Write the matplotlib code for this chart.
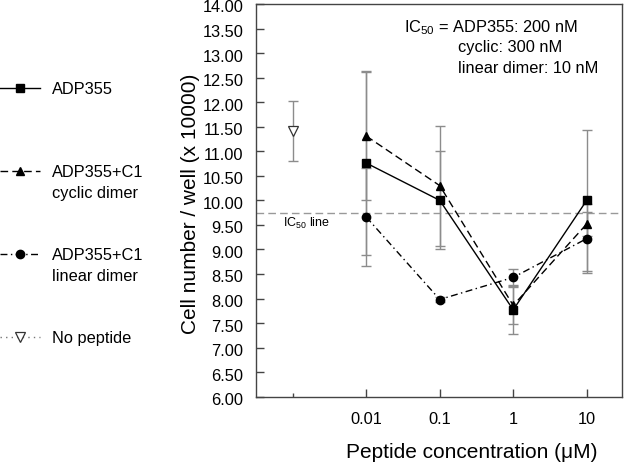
import matplotlib
matplotlib.use('Agg')
import matplotlib.pyplot as plt
import matplotlib.transforms as mtransforms
from matplotlib.lines import Line2D

plt.rcParams['font.family'] = ['Liberation Sans', 'DejaVu Sans']
plt.rcParams['mathtext.fontset'] = 'custom'
plt.rcParams['mathtext.rm'] = 'Liberation Sans'
plt.rcParams['mathtext.it'] = 'Liberation Sans'
plt.rcParams['lines.scale_dashes'] = False

# Dados
conc = [0.01, 0.1, 1, 10]
adp355 = [10.76, 10.00, 7.77, 10.00]
adp355_err = [1.87, 1.00, 0.50, 1.43]
ciclico = [11.31, 10.30, 7.86, 9.52]
ciclico_err = [1.31, 1.22, 0.38, 0.25]
linear = [9.66, 7.98, 8.43, 9.22]
linear_err = [1.00, 0.05, 0.18, 0.70]
sem_peptideo_x = [0.001]
sem_peptideo = [11.42]
sem_peptideo_err = [0.61]
ic50 = 9.75

yticks = [6 + 0.5 * i for i in range(17)]
xticks = [0.01, 0.1, 1, 10]
xticklabels = ['0.01', '0.1', '1', '10']

fig = plt.figure(figsize=(6.24, 4.65), dpi=100)
ax = fig.add_axes([256 / 624, 1 - 396.7 / 465, 366 / 624, 392.7 / 465])

cinza = '#8c8c8c'
estilos = {
    'ADP355': dict(marker='s', ls='-', ms=5.5),
    'cyc': dict(marker='^', ls=(0, (5.5, 3)), ms=6),
    'lin': dict(marker='o', ls=(0, (5, 2.5, 1, 2.5)), ms=6),
}

for y, err, est in [(adp355, adp355_err, estilos['ADP355']),
                    (ciclico, ciclico_err, estilos['cyc']),
                    (linear, linear_err, estilos['lin'])]:
    ax.errorbar(conc, y, yerr=err, fmt='none', ecolor=cinza, elinewidth=1,
                capsize=3.5, capthick=1, zorder=2)
    ax.plot(conc, y, color='black', lw=1, marker=est['marker'], ls=est['ls'],
            ms=est['ms'], zorder=3)

ax.errorbar(sem_peptideo_x, sem_peptideo, yerr=sem_peptideo_err, fmt='none',
            ecolor=cinza, elinewidth=1, capsize=3.5, capthick=1, zorder=2)
ax.plot(sem_peptideo_x, sem_peptideo, ls='none', marker='v', ms=6.5,
        mfc='white', mec='#333333', mew=0.9, zorder=3)

ax.axhline(ic50, color='#999999', lw=1, ls=(0, (5.5, 3)), zorder=1)
ax.text(0.075, 0.44, 'IC$_{50}$ line', transform=ax.transAxes, fontsize=9,
        va='center', ha='left')

ax.text(0.405, 0.941, 'IC$_{50}$ = ADP355: 200 nM', transform=ax.transAxes,
        fontsize=11.8, va='center', ha='left')
ax.text(0.552, 0.888, 'cyclic: 300 nM', transform=ax.transAxes,
        fontsize=11.8, va='center', ha='left')
ax.text(0.552, 0.835, 'linear dimer: 10 nM', transform=ax.transAxes,
        fontsize=11.8, va='center', ha='left')

ax.set_xscale('log')
ax.set_xlim(10 ** -3.5, 10 ** 1.48)
ax.set_ylim(6, 14)
ax.set_xticks(xticks)
ax.set_xticklabels(xticklabels)
ax.set_xticks([0.001], minor=True)
ax.set_xticklabels([''], minor=True)
ax.set_yticks(yticks)
ax.set_yticklabels(['%.2f' % v for v in yticks])
ax.yaxis.set_minor_locator(matplotlib.ticker.NullLocator())
ax.tick_params(axis='both', which='major', direction='in', length=6,
               width=1, color='#444444', labelsize=11.8)
ax.tick_params(axis='x', which='major', pad=11)
ax.tick_params(axis='y', which='major', pad=9)
ax.tick_params(axis='x', which='minor', direction='in', length=3,
               width=1, color='#444444')
for s in ax.spines.values():
    s.set_color('#444444')
    s.set_linewidth(1)

# desloca um pouco os rótulos do eixo y para baixo, como no original
desloc = mtransforms.ScaledTranslation(0, -2.5 / 100, fig.dpi_scale_trans)
for lab in ax.get_yticklabels():
    lab.set_transform(lab.get_transform() + desloc)

ax.set_ylabel('Cell number / well (x 10000)', fontsize=15)
ax.yaxis.set_label_coords(-0.153, 0.49)
ax.set_xlabel('Peptide concentration (\u03bcM)', fontsize=15)
ax.xaxis.set_label_coords(0.59, -0.118)

# Legenda à esquerda, fora do eixo
handles = [
    Line2D([], [], color='black', lw=1, marker='s', ms=5.5, ls='-'),
    Line2D([], [], color='black', lw=1, marker='^', ms=6, ls=(0, (5.5, 3))),
    Line2D([], [], color='black', lw=1, marker='o', ms=6,
           ls=(0, (5, 2.5, 1, 2.5))),
    Line2D([], [], color='#777777', lw=1, marker='v', ms=6.5, mfc='white',
           mec='#333333', mew=0.9, ls=(0, (1, 3))),
]
nomes = ['ADP355', 'ADP355+C1', 'ADP355+C1', 'No peptide']
leg = fig.legend(handles, nomes, loc='upper left',
                 bbox_to_anchor=(0, 1 - 82 / 465), frameon=False,
                 fontsize=11.8, borderpad=0, borderaxespad=0,
                 handlelength=2.44, handletextpad=0.73, labelspacing=4.15,
                 numpoints=1)

fig.canvas.draw()
inv = fig.transFigure.inverted()
for txt, seg in [(leg.get_texts()[1], 'cyclic dimer'),
                 (leg.get_texts()[2], 'linear dimer')]:
    bb = txt.get_window_extent()
    x0, y0 = inv.transform((bb.x0, bb.y0))
    fig.text(x0, y0 - 6 / 465, seg, fontsize=11.8, ha='left', va='top')

fig.savefig('out.png', dpi=100)
